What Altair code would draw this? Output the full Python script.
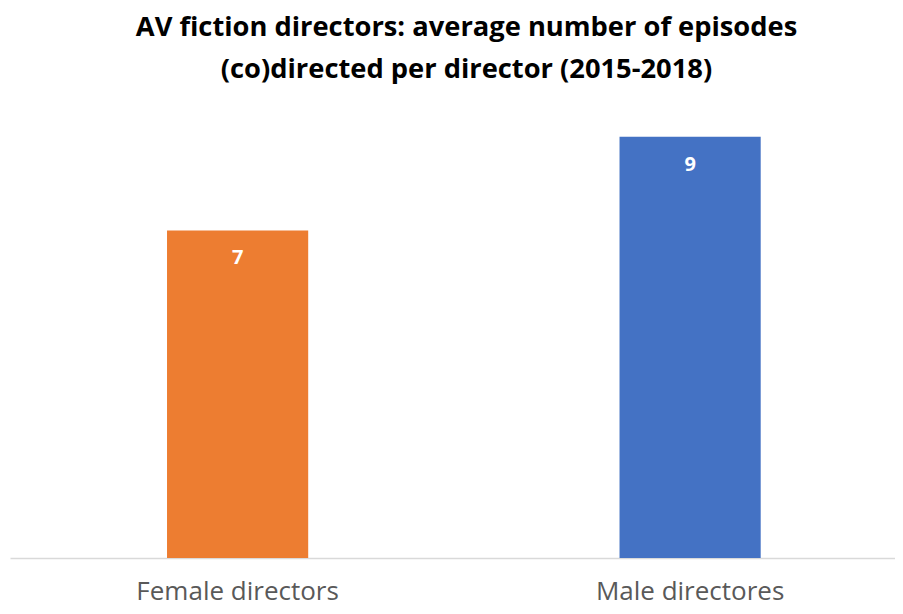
import altair as alt
import pandas as pd

categories = ["Female directors", "Male directores"]
values = [7, 9]
colors = ["#ED7D31", "#4472C4"]

df = pd.DataFrame({"cat": categories, "val": values, "col": colors})

x = alt.X("cat:N", sort=categories,
          scale=alt.Scale(paddingInner=0.688, paddingOuter=0.3219, align=0.539, round=False),
          axis=alt.Axis(title=None, labelAngle=0, ticks=False, domainColor="#D9D9D9",
                        domainWidth=1.5, labelFont="Open Sans", labelFontSize=26,
                        labelColor="#595959", labelPadding=20, labelLimit=400))
y = alt.Y("val:Q", scale=alt.Scale(domain=[0, 10]), axis=None)

bars = alt.Chart(df).mark_bar().encode(
    x=x, y=y, color=alt.Color("col:N", scale=None)
)
labels = alt.Chart(df).mark_text(
    color="white", font="Open Sans", fontWeight="bold", fontSize=20,
    baseline="middle", dy=28
).encode(x=x, y=y, text=alt.Text("val:Q"))

chart = (bars + labels).properties(
    width=885, height=468,
    autosize=alt.AutoSizeParams(type="none"),
    padding={"left": 2, "top": 82, "right": 0, "bottom": 48},
    title=alt.TitleParams(
        ["AV fiction directors: average number of episodes",
         "(co)directed per director (2015-2018)"],
        font="Open Sans", fontSize=27.3, fontWeight="bold", color="#000000",
        lineHeight=42, anchor="middle", dx=14, offset=7
    )
).configure_view(stroke=None)

chart.save("out.html", embed_options={"renderer": "svg", "actions": False})
